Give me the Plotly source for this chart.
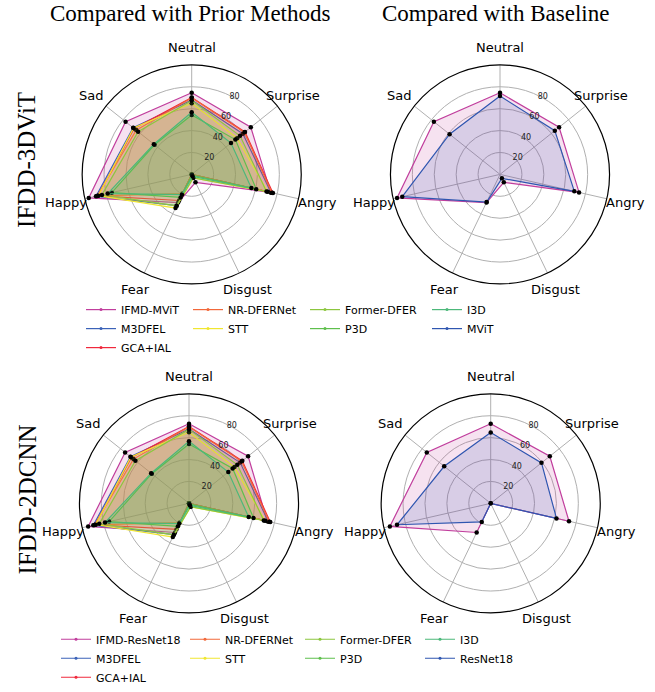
import math
import plotly.graph_objects as go

categories = ["Neutral", "Surprise", "Angry", "Disgust", "Fear", "Happy", "Sad"]
radial_ticks = [20, 40, 60, 80]

# prior methods (same in both rows)
m3dfel = [67.88, 59.69, 74.24, 0.0, 31.63, 89.59, 68.38]
gca_ial = [70.10, 62.22, 76.06, 0.0, 26.44, 87.95, 67.21]
nr_dfernet = [70.03, 61.60, 75.09, 0.0, 19.43, 88.47, 64.84]
stt = [64.97, 53.10, 71.24, 3.49, 34.04, 87.36, 67.90]
former_dfer = [67.52, 56.43, 70.03, 3.45, 31.78, 84.05, 62.57]
p3d = [54.18, 50.99, 60.42, 0.69, 23.28, 74.85, 43.40]
i3d = [56.69, 45.88, 55.87, 2.07, 20.51, 78.61, 44.19]

# ours and baselines
ifmd_mvit = [74.5, 69.0, 74.0, 8.0, 28.5, 96.4, 77.2]
mvit = [71.5, 64.0, 69.6, 4.0, 28.0, 91.5, 58.9]
ifmd_resnet18 = [72.7, 69.0, 73.3, 0.0, 29.5, 94.4, 74.6]
resnet18 = [64.6, 59.3, 61.6, 0.0, 18.8, 87.7, 54.3]

colors = {
    "IFMD": "#c13e9d",
    "M3DFEL": "#3b62b8",
    "GCA+IAL": "#f0283c",
    "NR-DFERNet": "#f2683a",
    "STT": "#f0e630",
    "Former-DFER": "#8cc63f",
    "P3D": "#5ebf4c",
    "I3D": "#4cb87a",
    "BASE": "#2f56b0",
}

# legend column (1..4) of each entry, matplotlib-style column-major layout
legend_col = {"IFMD": 1, "M3DFEL": 1, "GCA+IAL": 1, "NR-DFERNet": 2, "STT": 2,
              "Former-DFER": 3, "P3D": 3, "I3D": 4, "BASE": 4}


def rgba(hex_color, a):
    h = hex_color.lstrip("#")
    r, g, b = int(h[0:2], 16), int(h[2:4], 16), int(h[4:6], 16)
    return f"rgba({r},{g},{b},{a})"


fig = go.Figure()


def legend_id(row, key):
    k = row * 4 + legend_col[key]
    return "legend" if k == 1 else f"legend{k}"


def add_series(name, values, color_key, subplot, row, show):
    col = colors[color_key]
    r = values + [values[0]]
    th = categories + [categories[0]]
    fig.add_trace(go.Scatterpolar(
        r=r, theta=th, subplot=subplot, mode="lines",
        line=dict(color=col, width=0), fill="toself", fillcolor=rgba(col, 0.15),
        showlegend=False, hoverinfo="skip",
    ))
    fig.add_trace(go.Scatterpolar(
        r=r, theta=th, subplot=subplot, name=name, mode="lines+markers",
        line=dict(color=col, width=1.2), marker=dict(color=col, size=3),
        legend=legend_id(row, color_key), showlegend=show,
    ))
    fig.add_trace(go.Scatterpolar(
        r=values, theta=categories, subplot=subplot, mode="markers",
        marker=dict(color="black", size=4.5), showlegend=False, hoverinfo="skip",
    ))


prior = [("M3DFEL", m3dfel), ("GCA+IAL", gca_ial), ("NR-DFERNet", nr_dfernet),
         ("STT", stt), ("Former-DFER", former_dfer), ("P3D", p3d), ("I3D", i3d)]

for row, (ours_name, ours, base_name, base, sp_left, sp_right) in enumerate([
    ("IFMD-MViT", ifmd_mvit, "MViT", mvit, "polar", "polar2"),
    ("IFMD-ResNet18", ifmd_resnet18, "ResNet18", resnet18, "polar3", "polar4"),
]):
    add_series(ours_name, ours, "IFMD", sp_left, row, True)
    for nm, vals in prior:
        add_series(nm, vals, nm, sp_left, row, True)
    add_series(ours_name, ours, "IFMD", sp_right, row, False)
    add_series(base_name, base, "BASE", sp_right, row, True)

W, H = 655, 692
R = 111
LABEL_R = 129
centers = [(191.7, 176.7), (500, 176.7), (189, 510), (490.7, 510)]


def px(x):
    return x / W


def py(y):
    return 1 - y / H


def dom(cx, cy):
    return dict(x=[(cx - R) / W, (cx + R) / W], y=[(H - cy - R) / H, (H - cy + R) / H])


def polar_layout(cx, cy):
    return dict(
        domain=dom(cx, cy),
        bgcolor="white",
        radialaxis=dict(range=[0, 100], tickvals=radial_ticks, angle=67.5, tickangle=67.5,
                        showline=False, gridcolor="#b0b0b0", gridwidth=1,
                        tickfont=dict(size=8, color="#222", family="DejaVu Sans"), ticks=""),
        angularaxis=dict(direction="clockwise", rotation=90, showline=True, linecolor="black",
                         linewidth=1.2, gridcolor="#b0b0b0", gridwidth=1,
                         categoryorder="array", categoryarray=categories,
                         showticklabels=False, ticks=""),
    )


annotations = [
    dict(text="Compared with Prior Methods", x=px(190), y=py(14)),
    dict(text="Compared with Baseline", x=px(495), y=py(14)),
]
for a in annotations:
    a.update(xref="paper", yref="paper", xanchor="center", yanchor="middle", showarrow=False,
             font=dict(family="Liberation Serif", size=23, color="black"))
for txt, yy in [("IFDD-3DViT", 162), ("IFDD-2DCNN", 506)]:
    annotations.append(dict(text=txt, x=px(27), y=py(yy), xref="paper", yref="paper",
                            xanchor="center", yanchor="middle", textangle=-90, showarrow=False,
                            font=dict(family="Liberation Serif", size=25, color="black")))
# category labels around each radar
n = len(categories)
for cx, cy in centers:
    for i, cat in enumerate(categories):
        ang = math.radians(90 - i * 360 / n)
        lx = cx + LABEL_R * math.cos(ang)
        ly = cy - LABEL_R * math.sin(ang)
        annotations.append(dict(text=cat, x=px(lx), y=py(ly), xref="paper", yref="paper",
                                xanchor="center", yanchor="middle", showarrow=False,
                                font=dict(family="DejaVu Sans", size=13, color="black")))

legend_style = dict(orientation="v", xanchor="left", yanchor="top",
                    font=dict(size=11, family="DejaVu Sans", color="black"),
                    bgcolor="rgba(0,0,0,0)", traceorder="normal", tracegroupgap=0)
legend_x = [[81, 188, 305, 427], [56, 185, 300, 420]]
legend_top = [299, 633]
legends = {}
for row in range(2):
    for c in range(4):
        k = row * 4 + c + 1
        key = "legend" if k == 1 else f"legend{k}"
        legends[key] = dict(x=px(legend_x[row][c]), y=py(legend_top[row]), **legend_style)

fig.update_layout(
    width=W, height=H, margin=dict(l=0, r=0, t=0, b=0),
    paper_bgcolor="white",
    polar=polar_layout(*centers[0]),
    polar2=polar_layout(*centers[1]),
    polar3=polar_layout(*centers[2]),
    polar4=polar_layout(*centers[3]),
    annotations=annotations,
    **legends,
)

fig.write_html("out.html", config={"displayModeBar": False},
               post_script="document.body.style.margin='0px';")
